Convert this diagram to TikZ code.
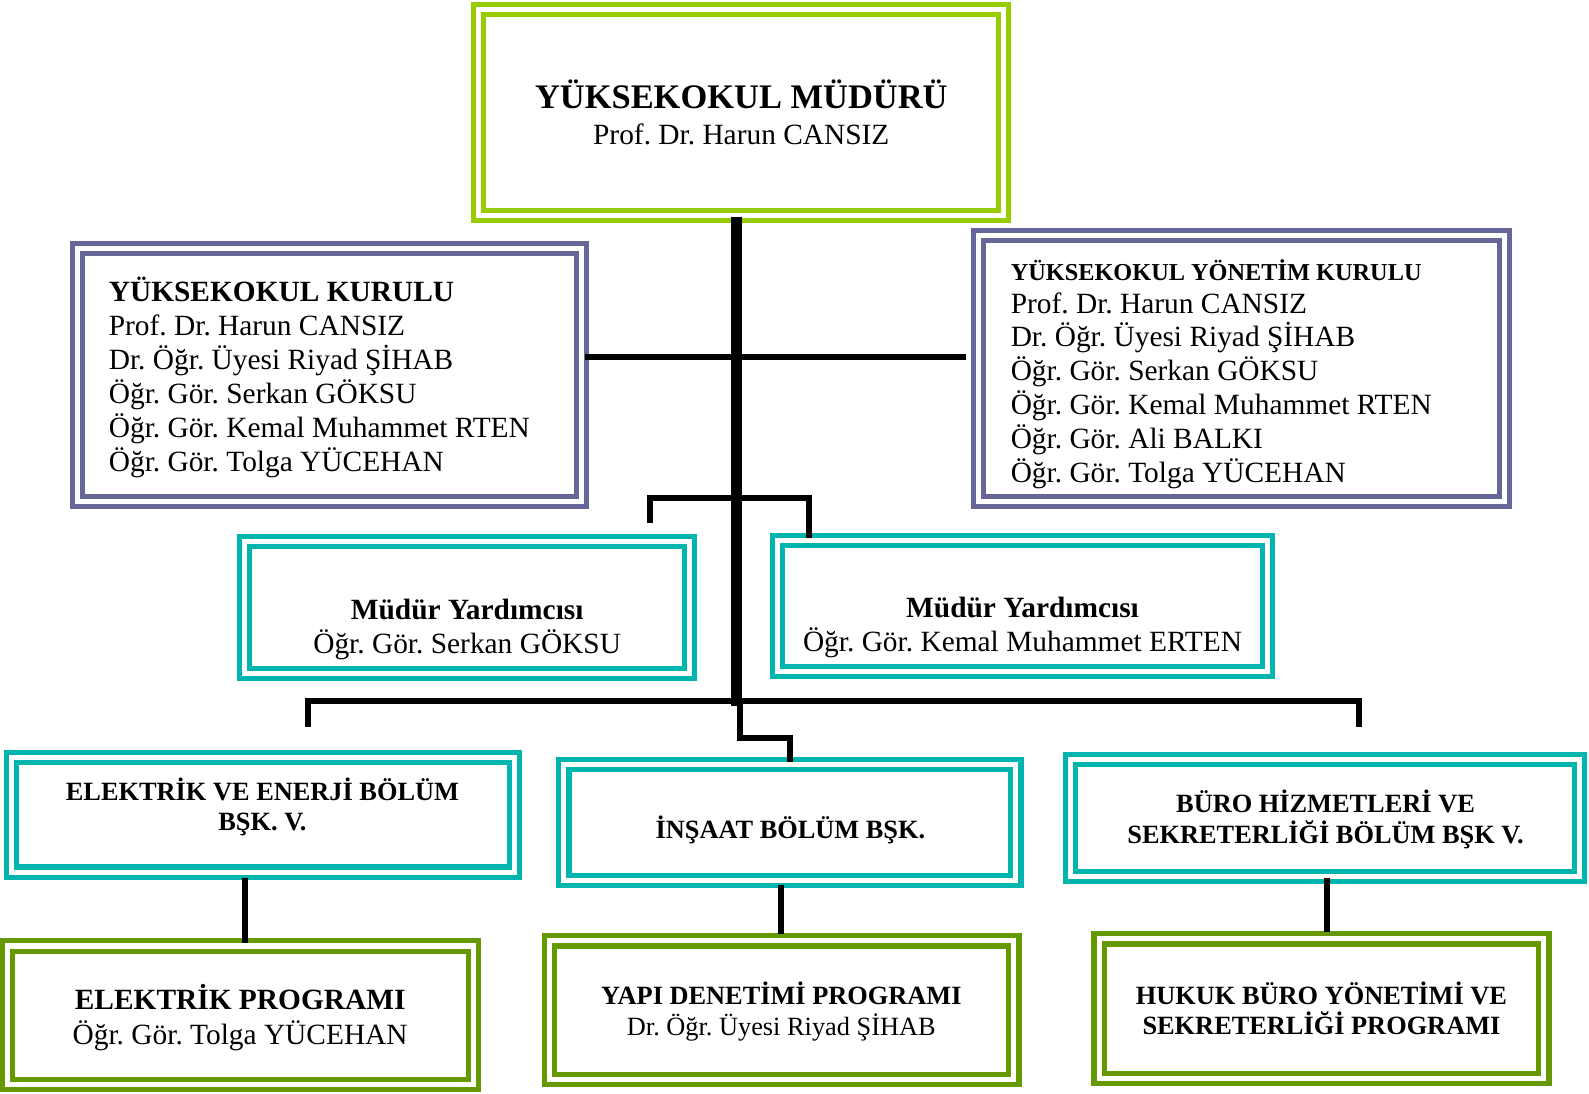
\documentclass[tikz,border=0pt]{standalone}
\usepackage{fontspec}
\setmainfont{Liberation Serif}
\frenchspacing
\definecolor{cLime}{HTML}{99CC00}
\definecolor{cPurp}{HTML}{666699}
\definecolor{cTeal}{HTML}{00B5AD}
\definecolor{cGreen}{HTML}{669900}
\begin{document}
\begin{tikzpicture}[x=0.5pt,y=-0.5pt,
  dbox/.style={draw=#1, double=white, double distance=2.5pt, line width=2.5pt, inner sep=0pt, outer sep=0pt, rectangle},
  conn/.style={line width=3pt, black},
  trunk/.style={line width=5.5pt, black},
  txt/.style={inner sep=0pt, align=center},
  big/.style={font=\fontsize{14.5}{16.7}\selectfont},
  small/.style={font=\fontsize{13}{15}\selectfont\bfseries}
]
\path[use as bounding box, fill=white] (0,0) rectangle (1568,1078.6);

% boxes
\node[dbox=cLime,  minimum width=259pt,   minimum height=101.5pt] (mudur)   at (731.5,111) {};
\node[dbox=cPurp,  minimum width=248.5pt, minimum height=124.5pt] (kurul)   at (325,370) {};
\node[dbox=cPurp,  minimum width=259.5pt, minimum height=131pt]   (yonetim) at (1225,363.5) {};
\node[dbox=cTeal,  minimum width=219.5pt, minimum height=65pt]    (yardL)   at (461,599.5) {};
\node[dbox=cTeal,  minimum width=241.5pt, minimum height=64.5pt]  (yardR)   at (1009,598) {};
\node[dbox=cTeal,  minimum width=248pt,   minimum height=56.5pt]  (elek)    at (259.5,804) {};
\node[dbox=cTeal,  minimum width=223pt,   minimum height=57pt]    (insaat)  at (779.5,811.5) {};
\node[dbox=cTeal,  minimum width=251pt,   minimum height=57.5pt]  (buro)    at (1307.5,807) {};
\node[dbox=cGreen, minimum width=230pt,   minimum height=68.5pt]  (elekP)   at (237.5,1002) {};
\node[dbox=cGreen, minimum width=229pt,   minimum height=68.5pt]  (yapiP)   at (771.5,997) {};
\node[dbox=cGreen, minimum width=219.5pt, minimum height=69pt]    (hukukP)  at (1304,995.5) {};

% texts
\node[txt, font=\fontsize{14.5}{17.5}\selectfont] (tMudur) at (731.5,111)
  {{\fontsize{17}{17}\selectfont\bfseries YÜKSEKOKUL MÜDÜRÜ}\\Prof. Dr. Harun CANSIZ};
\node[txt, big, align=left, anchor=west] (tKurul) at (107,372.5)
  {\textbf{YÜKSEKOKUL KURULU}\\Prof. Dr. Harun CANSIZ\\Dr. Öğr. Üyesi Riyad ŞİHAB\\Öğr. Gör. Serkan GÖKSU\\Öğr. Gör. Kemal Muhammet RTEN\\Öğr. Gör. Tolga YÜCEHAN};
\node[txt, big, align=left, anchor=west] (tYonetim) at (997,369)
  {{\fontsize{12}{12}\selectfont\bfseries YÜKSEKOKUL YÖNETİM KURULU}\\[-0.5pt]Prof. Dr. Harun CANSIZ\\Dr. Öğr. Üyesi Riyad ŞİHAB\\Öğr. Gör. Serkan GÖKSU\\Öğr. Gör. Kemal Muhammet RTEN\\Öğr. Gör. Ali BALKI\\Öğr. Gör. Tolga YÜCEHAN};
\node[txt, font=\fontsize{14.5}{17}\selectfont] (tYardL) at (461,621)
  {\textbf{Müdür Yardımcısı}\\Öğr. Gör. Serkan GÖKSU};
\node[txt, font=\fontsize{14.5}{17}\selectfont] (tYardR) at (1009,619)
  {\textbf{Müdür Yardımcısı}\\Öğr. Gör. Kemal Muhammet ERTEN};
\node[txt, small] (tElek) at (259,796) {ELEKTRİK VE ENERJİ BÖLÜM\\BŞK. V.};
\node[txt, small] (tInsaat) at (780,819) {İNŞAAT BÖLÜM BŞK.};
\node[txt, small] (tBuro) at (1308,808.5) {BÜRO HİZMETLERİ VE\\SEKRETERLİĞİ BÖLÜM BŞK V.};
\node[txt, font=\fontsize{14.5}{17}\selectfont] (tElekP) at (237,1004)
  {\textbf{ELEKTRİK PROGRAMI}\\Öğr. Gör. Tolga YÜCEHAN};
\node[txt, font=\fontsize{13}{15.5}\selectfont] (tYapiP) at (771,998)
  {\textbf{YAPI DENETİMİ PROGRAMI}\\Dr. Öğr. Üyesi Riyad ŞİHAB};
\node[txt, small] (tHukukP) at (1304,995) {HUKUK BÜRO YÖNETİMİ VE\\SEKRETERLİĞİ PROGRAMI};

% connector coordinates
\coordinate (trA) at (727,214);
\coordinate (trB) at (727,697);
\coordinate (kL) at (577,352);
\coordinate (kR) at (953,352);
\coordinate (vA) at (641,516);
\coordinate (vB) at (641,491);
\coordinate (vC) at (798,491);
\coordinate (vD) at (798,531);
\coordinate (bA) at (304,717);
\coordinate (bB) at (304,692);
\coordinate (bC) at (1341,692);
\coordinate (bD) at (1341,717);
\coordinate (mA) at (730,692);
\coordinate (mB) at (730,728);
\coordinate (mC) at (780,728);
\coordinate (mD) at (780,752);
\coordinate (l1a) at (242,866);
\coordinate (l1b) at (242,931);
\coordinate (l2a) at (771,873);
\coordinate (l2b) at (771,922);
\coordinate (l3a) at (1309,866);
\coordinate (l3b) at (1309,920);

\draw[conn] (kL) -- (kR);
\draw[conn] (vA) -- (vB) -- (vC) -- (vD);
\draw[conn] (bA) -- (bB) -- (bC) -- (bD);
\draw[conn] (mA) -- (mB) -- (mC) -- (mD);
\draw[trunk] (trA) -- (trB);
\draw[conn] (l1a) -- (l1b);
\draw[conn] (l2a) -- (l2b);
\draw[conn] (l3a) -- (l3b);
\end{tikzpicture}
\end{document}
